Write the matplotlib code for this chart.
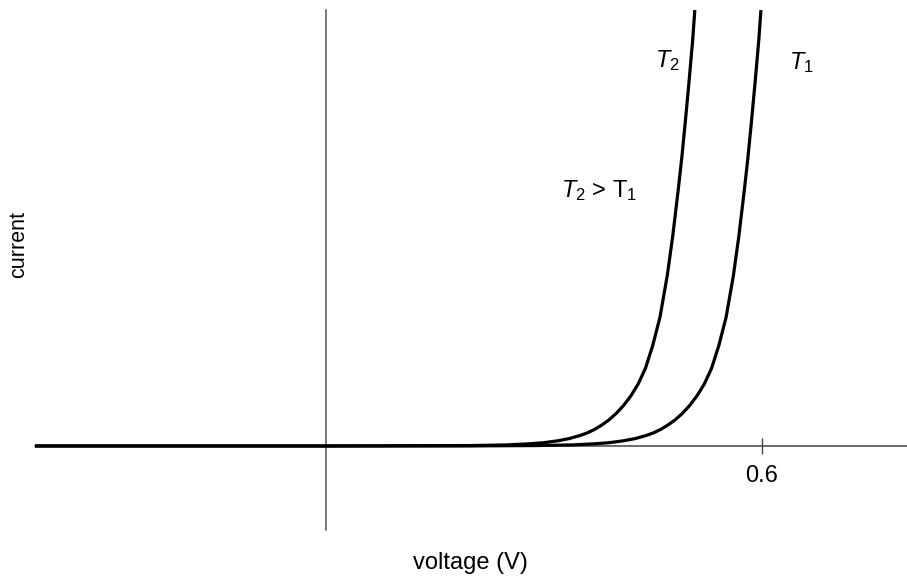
import matplotlib
matplotlib.use("Agg")
import matplotlib.pyplot as plt

plt.rcParams['font.family'] = ['Liberation Sans', 'DejaVu Sans']
plt.rcParams['mathtext.fontset'] = 'custom'
plt.rcParams['mathtext.rm'] = 'Liberation Sans'
plt.rcParams['mathtext.it'] = 'Liberation Sans:italic'

# Data (voltage in V, current in arbitrary units)
v_T2 = [-0.40, 0.00, 0.20, 0.25, 0.28, 0.30, 0.32, 0.335, 0.35, 0.36, 0.37,
        0.38, 0.39, 0.40, 0.41, 0.42, 0.43, 0.44, 0.45, 0.46, 0.47, 0.4775,
        0.485, 0.49, 0.495, 0.50, 0.505, 0.508]
i_T2 = [0.0, 0.0, 0.01, 0.025, 0.05, 0.075, 0.12, 0.17, 0.24, 0.30, 0.38,
        0.48, 0.60, 0.75, 0.93, 1.15, 1.42, 1.78, 2.30, 2.95, 3.90, 4.80,
        5.85, 6.60, 7.45, 8.35, 9.30, 10.0]

v_T1 = [-0.40, 0.00, 0.20, 0.29, 0.34, 0.37, 0.39, 0.41, 0.426, 0.441, 0.451,
        0.461, 0.471, 0.481, 0.491, 0.501, 0.511, 0.521, 0.531, 0.541, 0.551,
        0.561, 0.5685, 0.576, 0.581, 0.586, 0.591, 0.596, 0.599]
i_T1 = [0.0, 0.0, 0.002, 0.01, 0.025, 0.05, 0.075, 0.12, 0.17, 0.24, 0.30,
        0.38, 0.48, 0.60, 0.75, 0.93, 1.15, 1.42, 1.78, 2.30, 2.95,
        3.90, 4.80, 5.85, 6.60, 7.45, 8.35, 9.30, 10.0]

x_ticks = [0.6]
x_tick_labels = ["0.6"]

W, H = 907, 577
fig = plt.figure(figsize=(W / 100, H / 100), dpi=100)
ax = fig.add_axes([35 / W, 47 / H, 872 / W, 520 / H])

ax.plot(v_T2, i_T2, color='black', lw=2.3, solid_capstyle='butt',
        solid_joinstyle='round', zorder=3)
ax.plot(v_T1, i_T1, color='black', lw=2.3, solid_capstyle='butt',
        solid_joinstyle='round', zorder=3)

ax.set_xlim(-0.4, 0.8)
ax.set_ylim(-1.927, 10.0)

for s in ['top', 'right']:
    ax.spines[s].set_visible(False)
ax.spines['left'].set_position(('data', 0))
ax.spines['bottom'].set_position(('data', 0))
ax.spines['left'].set_color('#555555')
ax.spines['bottom'].set_color('#444444')
ax.spines['left'].set_linewidth(1.1)
ax.spines['bottom'].set_linewidth(1.1)

ax.set_xticks(x_ticks)
ax.set_xticklabels(x_tick_labels)
ax.set_yticks([])
ax.tick_params(axis='x', direction='inout', length=12, width=1.0,
               color='#444444', labelsize=17, pad=8)

ax.text(0.453, 8.7, r'$T_2$', fontsize=17, ha='left', va='baseline')
ax.text(0.637, 8.65, r'$T_1$', fontsize=17, ha='left', va='baseline')
ax.text(0.3235, 5.72, r'$T_2$ > T$_1$', fontsize=17, ha='left', va='baseline')

fig.text(470 / W, 1 - 563 / H, 'voltage (V)', fontsize=17, ha='center', va='center')
fig.text(19 / W, 1 - 245 / H, 'current', fontsize=15.5, rotation=90,
         ha='center', va='center')

fig.savefig('out.png', dpi=100)
